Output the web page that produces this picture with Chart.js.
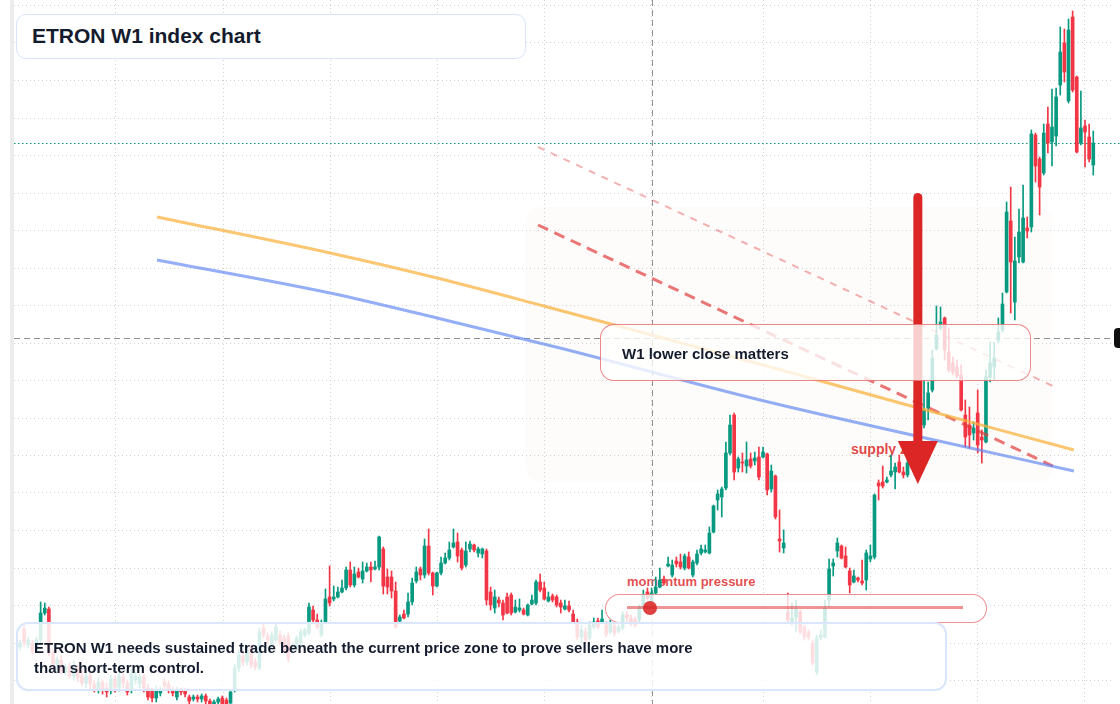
<!DOCTYPE html>
<html>
<head>
<meta charset="utf-8">
<title>ETRON W1 index chart</title>
<script src="https://cdn.jsdelivr.net/npm/chart.js@4.4.1/dist/chart.umd.min.js"></script>
<style>
  html, body { margin: 0; padding: 0; background: #ffffff; }
  body { width: 1120px; height: 704px; position: relative; overflow: hidden; font-family: "Liberation Sans", Arial, sans-serif; color: #141b2d; }
  #chart { position: absolute; left: 0; top: 0; z-index: 2; }
  .edge { position: absolute; left: 10px; top: 0; width: 4px; height: 704px; background: #ececec; }
  .under { position: absolute; z-index: 1; font-weight: 700; white-space: nowrap; }
  .box { position: absolute; z-index: 3; box-sizing: border-box; }
  .txt { position: absolute; z-index: 4; font-weight: 700; white-space: nowrap; }
</style>
</head>
<body>
<div class="edge"></div>
<div class="under" style="left:851px; top:439.5px; font-size:14px; line-height:18px; color:rgba(220,38,38,0.9);">supply zone</div>
<div class="under" style="left:627px; top:574px; font-size:13px; line-height:16px; color:rgba(220,38,38,0.82);">momentum pressure</div>

<canvas id="chart" width="1120" height="704"></canvas>

<div class="box" style="left:16px; top:13.5px; width:510px; height:45px; background:#fff; border:1.5px solid #d7e4fa; border-radius:10px;"></div>
<div class="txt" style="left:32px; top:24px; font-size:21px; line-height:24px;">ETRON W1 index chart</div>

<div class="box" style="left:599.5px; top:323.5px; width:431px; height:57px; background:rgba(255,255,255,0.78); border:1px solid rgba(220,38,38,0.55); border-radius:14px;"></div>
<div class="txt" style="left:622px; top:344px; font-size:15px; line-height:20px;">W1 lower close matters</div>

<div class="box" style="left:604.5px; top:593.5px; width:382px; height:29px; background:rgba(255,255,255,0.8); border:1.5px solid rgba(220,38,38,0.5); border-radius:15px;"></div>
<div class="box" style="left:627px; top:606px; width:336px; height:3px; background:rgba(224,60,60,0.55);"></div>
<div class="box" style="left:642.5px; top:600.5px; width:14px; height:14px; border-radius:50%; background:rgba(220,38,38,0.88);"></div>

<div class="box" style="left:16px; top:621.5px; width:930.5px; height:69px; background:rgba(255,255,255,0.84); border:2px solid #dae6fb; border-radius:12px;"></div>
<div class="txt" style="left:34px; top:638px; font-size:15px; line-height:20px;">ETRON W1 needs sustained trade beneath the current price zone to prove sellers have more<br>than short-term control.</div>

<div class="box" style="left:1114px; top:328px; width:12px; height:20px; background:#111; border-radius:4px 0 0 4px;"></div>

<script>
// weekly candles, index 0..260 (price scale has no visible labels)
const OPEN = [
  71,89,73,75,70,78,105,109,65,53,
  58,46,51,42,50,42,35,42,34,29,
  36,30,28,39,30,41,35,28,38,34,
  41,30,28,20,25,36,34,29,21,28,
  28,21,19,21,19,22,17,14,16,20,
  18,15,28,50,62,56,70,56,50,90,
  82,73,78,83,80,82,68,71,75,83,
  85,108,98,83,96,121,119,121,126,130,
  148,133,146,139,147,151,149,151,169,141,
  141,127,97,104,104,116,137,149,143,172,
  145,132,145,155,160,171,176,168,153,169,
  173,165,164,167,126,110,118,115,121,123,
  106,108,108,103,114,115,136,130,117,122,
  121,115,109,112,104,96,81,86,80,91,
  97,96,93,86,92,87,90,103,100,98,
  98,110,126,115,125,131,139,152,143,157,
  156,150,161,143,155,165,166,165,186,218,
  221,230,265,303,250,256,252,259,257,261,
  261,264,229,242,179,170,106,95,101,106,
  91,86,75,46,80,81,118,152,167,172,
  162,147,136,140,137,138,159,161,235,236,
  236,243,246,256,246,243,255,266,278,293,
  310,328,369,390,400,366,355,351,343,303,
  293,285,305,281,276,341,351,378,388,426,
  497,416,461,456,490,491,583,559,545,594,
  576,582,633,675,617,701,641,575,592,581,553
];
const CLOSE = [
  75,75,78,67,78,105,110,65,54,58,
  47,51,42,50,40,35,42,34,30,36,
  28,26,39,31,42,35,26,44,42,41,
  30,21,20,28,28,32,28,25,28,26,
  24,17,21,19,22,17,14,16,19,14,
  14,26,50,63,56,68,53,51,86,83,
  78,83,91,75,68,60,73,80,86,88,
  111,98,91,95,119,115,121,126,130,148,
  133,144,141,147,151,148,151,181,132,131,
  127,91,101,100,116,135,146,143,172,145,
  132,145,155,160,168,175,162,150,167,174,
  168,169,169,118,113,121,115,103,105,105,
  111,110,104,113,118,136,128,119,121,118,
  113,111,112,108,96,81,88,78,93,96,
  91,99,84,95,85,91,103,100,96,93,
  111,123,120,125,131,138,135,154,153,154,
  151,162,150,156,164,169,168,185,212,224,
  229,265,293,246,259,255,258,252,260,241,
  266,228,247,201,177,175,98,100,109,86,
  81,81,55,80,83,110,149,155,175,160,
  151,133,142,138,135,165,162,223,232,232,
  238,247,251,246,243,255,266,278,273,308,
  325,360,383,396,368,348,346,342,308,281,
  283,290,273,278,341,355,360,386,414,506,
  456,457,486,500,487,584,552,531,585,575,
  591,621,666,646,688,628,566,590,586,559,575
];
const HIGH = [
  78,92,81,78,81,116,115,111,68,61,
  62,54,55,57,53,48,46,45,38,40,
  38,35,43,42,46,45,38,48,46,44,
  44,34,30,32,31,39,37,31,31,30,
  30,23,23,23,24,24,19,18,21,22,
  20,28,54,68,66,72,73,60,90,94,
  85,86,94,87,83,85,75,82,89,90,
  115,112,104,98,129,152,132,131,138,151,
  156,151,150,156,155,156,157,182,171,149,
  147,136,103,108,125,140,151,151,179,189,
  146,146,161,165,176,189,185,170,176,177,
  174,171,170,169,131,128,121,118,125,125,
  118,119,110,114,123,138,144,136,126,124,
  123,118,118,117,108,99,93,90,96,100,
  100,108,96,98,94,93,106,106,103,101,
  113,128,130,130,141,150,142,161,158,161,
  164,164,166,158,168,173,173,191,213,228,
  231,276,303,305,261,265,276,265,266,271,
  271,265,253,243,208,188,125,115,118,108,
  93,88,78,83,88,118,159,159,180,173,
  171,150,148,141,158,168,173,224,238,252,
  241,263,255,263,251,263,272,286,288,338,
  336,368,412,411,401,390,361,358,353,318,
  311,296,328,288,348,376,376,400,425,516,
  531,481,509,533,501,588,585,561,594,611,
  629,630,691,689,699,707,642,627,598,594,587
];
const LOW = [
  68,72,70,64,68,73,103,62,50,48,
  44,43,40,38,36,32,30,28,26,25,
  24,21,24,26,27,30,23,25,34,30,
  26,18,16,16,22,28,25,22,18,23,
  21,14,17,16,16,14,12,12,14,12,
  12,12,26,46,52,53,50,48,48,80,
  74,70,76,73,66,56,65,68,73,81,
  83,94,89,81,94,112,117,120,125,128,
  131,131,140,135,146,136,148,148,124,124,
  120,90,95,99,101,113,135,138,140,143,
  123,131,143,154,158,170,156,148,151,166,
  166,161,160,113,108,105,111,98,104,103,
  105,106,103,102,113,113,126,118,116,116,
  111,105,108,106,95,78,75,75,78,89,
  89,95,81,84,82,85,88,96,92,91,
  96,108,118,113,124,130,133,151,141,151,
  149,148,149,141,153,163,165,164,185,208,
  201,228,263,238,246,246,245,250,253,238,
  260,223,226,199,166,165,96,93,86,84,
  78,78,53,43,78,80,111,142,161,159,
  150,125,135,136,133,128,156,159,218,230,
  235,241,229,245,240,241,253,263,268,290,
  298,326,368,388,358,346,343,340,307,271,
  270,278,265,255,275,336,338,375,386,425,
  405,398,455,455,480,486,536,503,543,565,
  552,572,623,636,615,626,565,573,551,556,543
];

// half-year separators (week index)
const GRID_WEEKS = [23.2, 49.2, 75.2, 101.2, 127.0, 153.0, 180.1, 206.1, 231.9, 257.8];
const PRICE_STEP = 37.5;

// overlay lines
const ORANGE_WEEKS = [33.2, 75.1, 101, 126.9, 182.7, 213.2, 255.3];
const ORANGE_LEVELS = [501, 465, 440, 412, 350, 315, 268];
const BLUE_WEEKS = [33.2, 75.1, 101, 130.8, 179.3, 220.4, 255.3];
const BLUE_LEVELS = [458, 425, 400, 370, 318, 279, 247];
const CHANNEL_WEEKS = [125.5, 250.2];
const CHANNEL_LOWER = [493, 252];
const CHANNEL_UPPER = [571, 332];

// annotations
const CROSS_WEEK = 153;
const CROSS_PRICE = 380;
const ZONE_WEEKS = [122.6, 250.0];
const ZONE_PRICES = [511, 236];
const ARROW_WEEK = 217.5;
const ARROW_PRICES = [520.5, 277, 234]; // from, head base, tip

const UP = "#089981";
const DOWN = "#f23645";

const candleColors = CLOSE.map((c, i) => (c >= OPEN[i] ? UP : DOWN));
const bodies = CLOSE.map((c, i) => ({ x: i, y: [OPEN[i], c] }));
const wicks = HIGH.map((h, i) => ({ x: i, y: [LOW[i], h] }));

function pairs(xs, ys) {
  return xs.map((x, i) => ({ x, y: ys[i] }));
}

const overlay = {
  id: "overlay",
  beforeDatasetsDraw(chart) {
    const { ctx, chartArea, scales: { x, y } } = chart;
    ctx.save();
    const zx0 = x.getPixelForValue(ZONE_WEEKS[0]);
    const zx1 = x.getPixelForValue(ZONE_WEEKS[1]);
    const zy0 = y.getPixelForValue(ZONE_PRICES[0]);
    const zy1 = y.getPixelForValue(ZONE_PRICES[1]);
    ctx.fillStyle = "rgba(235, 200, 170, 0.06)";
    ctx.beginPath();
    ctx.roundRect(zx0, zy0, zx1 - zx0, zy1 - zy0, 14);
    ctx.fill();

    ctx.strokeStyle = "rgba(110, 110, 110, 0.75)";
    ctx.lineWidth = 1;
    ctx.setLineDash([6, 4]);
    const cx = Math.round(x.getPixelForValue(CROSS_WEEK)) + 0.5;
    ctx.beginPath();
    ctx.moveTo(cx, chartArea.top);
    ctx.lineTo(cx, chartArea.bottom);
    ctx.stroke();
    const cy = Math.round(y.getPixelForValue(CROSS_PRICE)) + 0.5;
    ctx.beginPath();
    ctx.moveTo(chartArea.left, cy);
    ctx.lineTo(chartArea.right, cy);
    ctx.stroke();

    const py = Math.round(y.getPixelForValue(CLOSE[CLOSE.length - 1])) + 0.5;
    ctx.strokeStyle = UP;
    ctx.setLineDash([1.5, 2.5]);
    ctx.beginPath();
    ctx.moveTo(chartArea.left, py);
    ctx.lineTo(chart.width, py);
    ctx.stroke();
    ctx.restore();
  },
  afterDatasetsDraw(chart) {
    const { ctx, scales: { x, y } } = chart;
    const ax = x.getPixelForValue(ARROW_WEEK);
    const top = y.getPixelForValue(ARROW_PRICES[0]);
    const base = y.getPixelForValue(ARROW_PRICES[1]);
    const tip = y.getPixelForValue(ARROW_PRICES[2]);
    ctx.save();
    ctx.strokeStyle = "#dc2626";
    ctx.fillStyle = "#dc2626";
    ctx.lineWidth = 9;
    ctx.lineCap = "round";
    ctx.beginPath();
    ctx.moveTo(ax, top);
    ctx.lineTo(ax, base + 2);
    ctx.stroke();
    ctx.beginPath();
    ctx.moveTo(ax - 20, base);
    ctx.lineTo(ax + 20, base);
    ctx.lineTo(ax, tip);
    ctx.closePath();
    ctx.fill();
    ctx.restore();
  },
};

const gridStyle = { color: "#cfd1d6", lineWidth: 1, drawTicks: false, offset: false };

new Chart(document.getElementById("chart"), {
  type: "bar",
  data: {
    datasets: [
      { type: "line", data: pairs(ORANGE_WEEKS, ORANGE_LEVELS), borderColor: "rgba(251, 176, 60, 0.72)", borderWidth: 3, pointRadius: 0, cubicInterpolationMode: "monotone", order: 1 },
      { type: "line", data: pairs(BLUE_WEEKS, BLUE_LEVELS), borderColor: "rgba(90, 130, 243, 0.65)", borderWidth: 3, pointRadius: 0, cubicInterpolationMode: "monotone", order: 1 },
      { type: "line", data: pairs(CHANNEL_WEEKS, CHANNEL_LOWER), borderColor: "rgba(224, 60, 60, 0.7)", borderWidth: 3, borderDash: [11, 7], pointRadius: 0, order: 1 },
      { type: "line", data: pairs(CHANNEL_WEEKS, CHANNEL_UPPER), borderColor: "rgba(224, 60, 60, 0.4)", borderWidth: 2, borderDash: [7, 7], pointRadius: 0, order: 1 },
      { data: bodies, backgroundColor: candleColors, barThickness: 3, minBarLength: 1, grouped: false, order: 2 },
      { data: wicks, backgroundColor: candleColors, barThickness: 1, grouped: false, order: 3 },
    ],
  },
  options: {
    responsive: false,
    animation: false,
    events: [],
    layout: { padding: { left: 14, right: 8, top: 0, bottom: 0 } },
    plugins: { legend: { display: false }, tooltip: { enabled: false } },
    scales: {
      x: {
        type: "linear",
        min: -1.4535,
        max: 264.535,
        offset: false,
        grid: gridStyle,
        border: { display: false, dash: [1, 3] },
        ticks: { display: false },
        afterBuildTicks: (scale) => { scale.ticks = GRID_WEEKS.map((v) => ({ value: v })); },
      },
      y: {
        type: "linear",
        min: 14,
        max: 718,
        grid: gridStyle,
        border: { display: false, dash: [1, 3] },
        ticks: { display: false, stepSize: PRICE_STEP, includeBounds: false },
      },
    },
  },
  plugins: [overlay],
});
</script>
</body>
</html>
